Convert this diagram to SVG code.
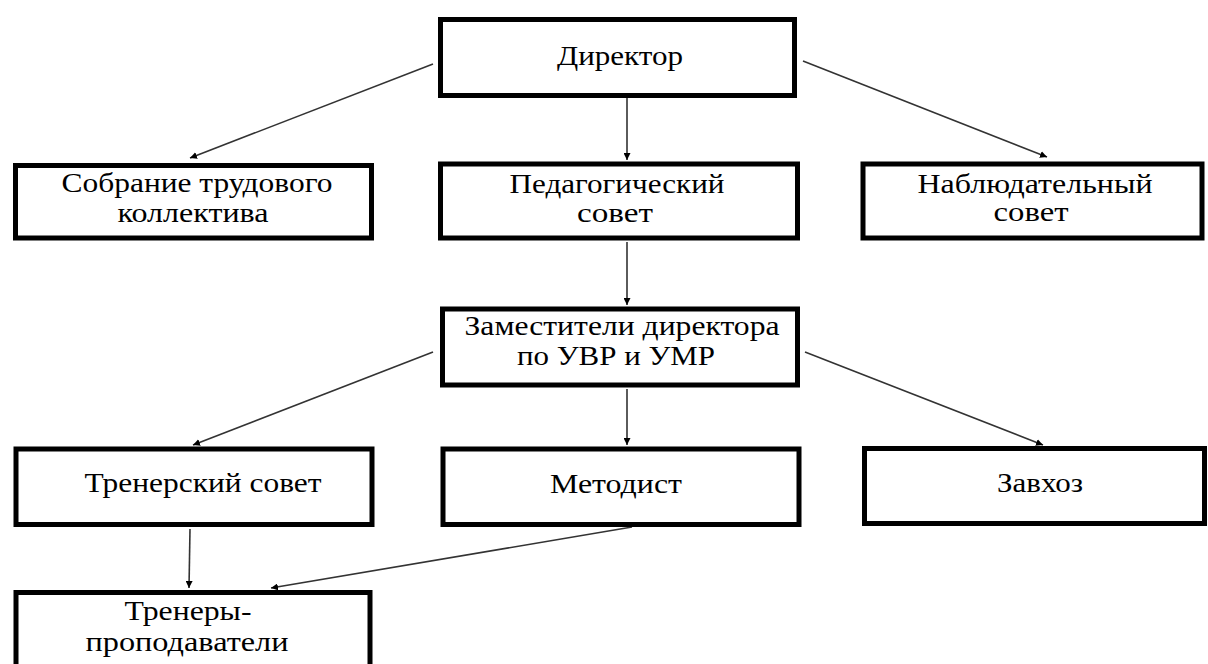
<svg xmlns="http://www.w3.org/2000/svg" width="1208" height="664" viewBox="0 0 1208 664">
<style>
.box{fill:#fff;stroke:#000;stroke-width:5}
.t{font-family:"Liberation Serif","Times New Roman",serif;font-size:28px;fill:#000;text-anchor:middle}
.c{stroke:#333;stroke-width:1.6;fill:none;marker-end:url(#ah)}
</style>
<defs>
<marker id="ah" viewBox="0 0 10 10" refX="10" refY="5" markerWidth="7" markerHeight="7" markerUnits="userSpaceOnUse" orient="auto">
<path d="M0,0 L10,5 L0,10 z" fill="#000"/>
</marker>
</defs>
<rect width="1208" height="664" fill="#fff"/>
<g id="connectors">
<line class="c" x1="433" y1="64" x2="190" y2="158"/>
<line class="c" x1="627" y1="98" x2="627" y2="160"/>
<line class="c" x1="803" y1="61" x2="1047" y2="157"/>
<line class="c" x1="627" y1="242" x2="627" y2="305"/>
<line class="c" x1="433" y1="352" x2="193" y2="445"/>
<line class="c" x1="627" y1="389" x2="627" y2="445"/>
<line class="c" x1="805" y1="352" x2="1043" y2="445"/>
<line class="c" x1="190" y1="529" x2="189" y2="588"/>
<line class="c" x1="632" y1="527" x2="271" y2="588"/>
</g>
<g id="director"><rect class="box" x="440.5" y="19.5" width="354" height="76"/><text class="t" x="620" y="65" textLength="126" lengthAdjust="spacingAndGlyphs">Директор</text></g>
<g id="sobranie"><rect class="box" x="15.5" y="165.5" width="356" height="72.5"/><text class="t" x="197" y="192" textLength="271" lengthAdjust="spacingAndGlyphs">Собрание трудового</text><text class="t" x="193" y="222" textLength="151" lengthAdjust="spacingAndGlyphs">коллектива</text></g>
<g id="pedsovet"><rect class="box" x="440.5" y="164" width="357" height="74"/><text class="t" x="617" y="193" textLength="215" lengthAdjust="spacingAndGlyphs">Педагогический</text><text class="t" x="615" y="222" textLength="76" lengthAdjust="spacingAndGlyphs">совет</text></g>
<g id="nabl"><rect class="box" x="863" y="164" width="339" height="74"/><text class="t" x="1035" y="193" textLength="235" lengthAdjust="spacingAndGlyphs">Наблюдательный</text><text class="t" x="1031" y="221" textLength="75" lengthAdjust="spacingAndGlyphs">совет</text></g>
<g id="zam"><rect class="box" x="442.5" y="309" width="355" height="76"/><text class="t" x="622" y="335" textLength="315" lengthAdjust="spacingAndGlyphs">Заместители директора</text><text class="t" x="616" y="365" textLength="198" lengthAdjust="spacingAndGlyphs">по УВР и УМР</text></g>
<g id="trensovet"><rect class="box" x="16" y="449" width="356" height="75.5"/><text class="t" x="203" y="492" textLength="237" lengthAdjust="spacingAndGlyphs">Тренерский совет</text></g>
<g id="metodist"><rect class="box" x="443" y="449" width="356" height="75.5"/><text class="t" x="616" y="493" textLength="132" lengthAdjust="spacingAndGlyphs">Методист</text></g>
<g id="zavhoz"><rect class="box" x="864.5" y="448.5" width="340" height="75"/><text class="t" x="1040" y="492" textLength="86" lengthAdjust="spacingAndGlyphs">Завхоз</text></g>
<g id="treneri"><rect class="box" x="16" y="592.5" width="354" height="90"/><text class="t" x="188" y="620" textLength="127" lengthAdjust="spacingAndGlyphs">Тренеры-</text><text class="t" x="187" y="651" textLength="203" lengthAdjust="spacingAndGlyphs">проподаватели</text></g>
</svg>
